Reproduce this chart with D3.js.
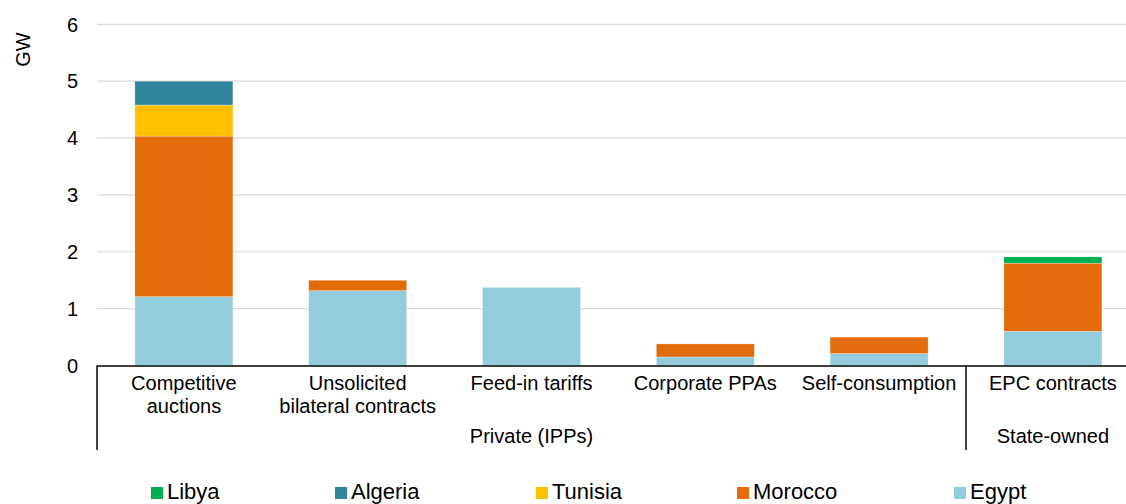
<!DOCTYPE html>
<html>
<head>
<meta charset="utf-8">
<script src="https://cdn.jsdelivr.net/npm/d3@7"></script>
<style>
  html, body { margin: 0; padding: 0; background: #fff; }
  svg { display: block; font-family: "Liberation Sans", Arial, sans-serif; }
</style>
</head>
<body>
<svg id="chart" width="1126" height="504"></svg>
<script>
// ---- Data ----
const categories = ["Competitive auctions", "Unsolicited bilateral contracts", "Feed-in tariffs", "Corporate PPAs", "Self-consumption", "EPC contracts"];
const categoryLines = [["Competitive", "auctions"], ["Unsolicited", "bilateral contracts"], ["Feed-in tariffs"], ["Corporate PPAs"], ["Self-consumption"], ["EPC contracts"]];
const groups = [
  { name: "Private (IPPs)", first: 0, last: 4 },
  { name: "State-owned", first: 5, last: 5 }
];
const seriesNames = ["Egypt", "Morocco", "Tunisia", "Algeria", "Libya"]; // bottom to top
const legendOrder = ["Libya", "Algeria", "Tunisia", "Morocco", "Egypt"];
const egypt   = [1.21, 1.315, 1.375, 0.15, 0.21, 0.60];
const morocco = [2.825, 0.185, 0, 0.23, 0.29, 1.20];
const tunisia = [0.545, 0, 0, 0, 0, 0];
const algeria = [0.42, 0, 0, 0, 0, 0];
const libya   = [0, 0, 0, 0, 0, 0.11];
const yTicks = [0, 1, 2, 3, 4, 5, 6];
const colors = { Libya: "#00b050", Algeria: "#31859c", Tunisia: "#ffc000", Morocco: "#e36c0a", Egypt: "#93cddd" };

const valuesBySeries = { Egypt: egypt, Morocco: morocco, Tunisia: tunisia, Algeria: algeria, Libya: libya };
const table = categories.map((c, i) => {
  const row = { category: c };
  seriesNames.forEach(s => row[s] = valuesBySeries[s][i]);
  return row;
});

// ---- Layout ----
const svg = d3.select("#chart");
const left = 97, step = 173.8;
const x = d3.scaleBand().domain(categories)
  .range([left, left + step * categories.length])
  .paddingInner(0.436).paddingOuter(0.218);
const y = d3.scaleLinear().domain([0, 6]).range([365.5, 24.3]);

// gridlines
svg.append("g").selectAll("line").data(yTicks.filter(d => d > 0)).join("line")
  .attr("x1", left).attr("x2", 1126)
  .attr("y1", d => y(d)).attr("y2", d => y(d))
  .attr("stroke", "#d9d9d9").attr("stroke-width", 1.2);

// y tick labels
svg.append("g").selectAll("text").data(yTicks).join("text")
  .attr("x", 78).attr("y", d => y(d)).attr("dy", "0.36em")
  .attr("text-anchor", "end").attr("font-size", 20).attr("fill", "#000")
  .text(d => d);

// y axis title
svg.append("text")
  .attr("transform", "translate(30,49.5) rotate(-90)")
  .attr("text-anchor", "middle").attr("font-size", 20).attr("fill", "#000")
  .text("GW");

// stacked bars
const stack = d3.stack().keys(seriesNames)(table);
svg.append("g").selectAll("g").data(stack).join("g")
  .attr("fill", d => colors[d.key])
  .selectAll("rect").data(d => d.filter(p => p[1] - p[0] > 0)).join("rect")
  .attr("x", d => x(d.data.category))
  .attr("width", x.bandwidth())
  .attr("y", d => y(d[1]))
  .attr("height", d => y(d[0]) - y(d[1]))
  .attr("stroke", "#fff").attr("stroke-width", 0.5).attr("stroke-opacity", 0.6);

// category axis line
svg.append("line")
  .attr("x1", left).attr("x2", 1126)
  .attr("y1", y(0) + 0.5).attr("y2", y(0) + 0.5)
  .attr("stroke", "#000").attr("stroke-width", 1.5);

// group separator lines
const sepIdx = [0, groups[1].first];
svg.append("g").selectAll("line").data(sepIdx).join("line")
  .attr("x1", i => left + i * x.step()).attr("x2", i => left + i * x.step())
  .attr("y1", y(0)).attr("y2", 450)
  .attr("stroke", "#000").attr("stroke-width", 1.5);

// category labels
const catG = svg.append("g").selectAll("text").data(categories).join("text")
  .attr("text-anchor", "middle").attr("font-size", 20).attr("fill", "#000")
  .attr("x", c => x(c) + x.bandwidth() / 2)
  .attr("y", 390);
catG.each(function(c, i) {
  d3.select(this).selectAll("tspan").data(categoryLines[i]).join("tspan")
    .attr("x", x(c) + x.bandwidth() / 2)
    .attr("dy", (d, j) => j === 0 ? 0 : 23)
    .text(d => d);
});

// group labels
svg.append("g").selectAll("text").data(groups).join("text")
  .attr("text-anchor", "middle").attr("font-size", 20).attr("fill", "#000")
  .attr("x", g => (left + g.first * x.step() + left + (g.last + 1) * x.step()) / 2)
  .attr("y", 443)
  .text(g => g.name);

// legend
const legendX = [151, 335, 536, 737, 954];
const lg = svg.append("g").selectAll("g").data(legendOrder).join("g")
  .attr("transform", (d, i) => `translate(${legendX[i]},487)`);
lg.append("rect").attr("width", 12).attr("height", 12).attr("fill", d => colors[d]);
lg.append("text").attr("x", 16).attr("y", 12).attr("font-size", 22).attr("fill", "#000").text(d => d);
</script>
</body>
</html>
